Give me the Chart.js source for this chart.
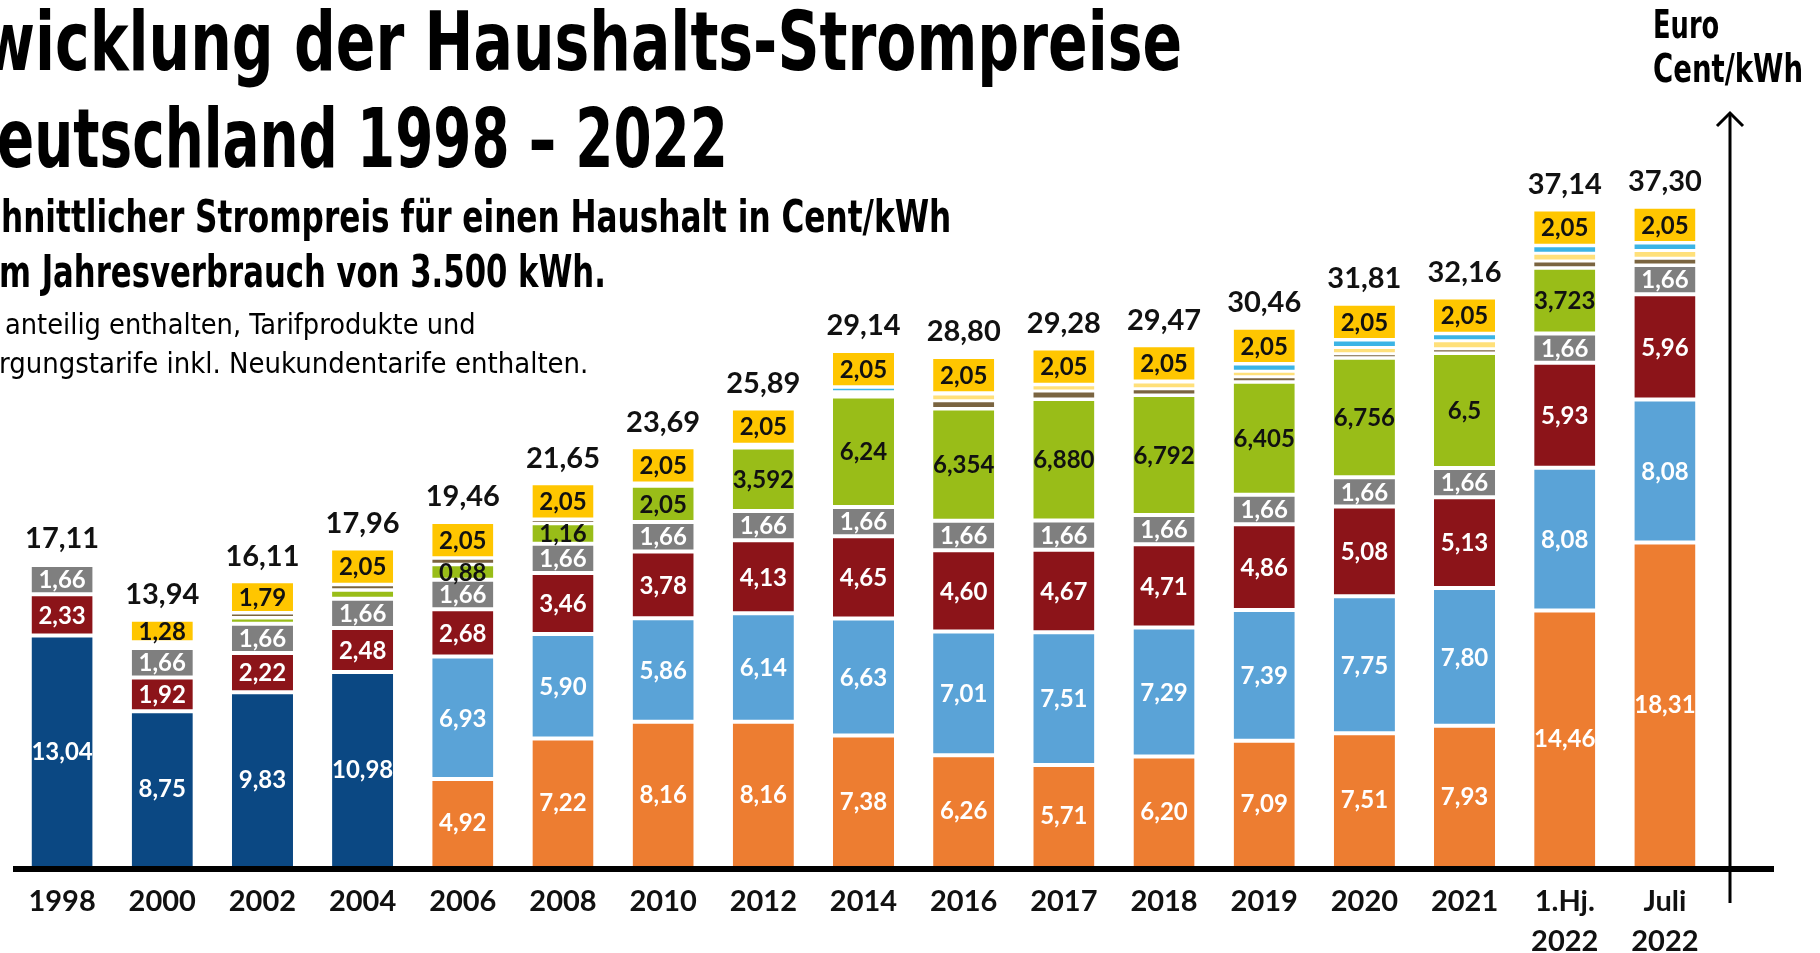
<!DOCTYPE html>
<html><head><meta charset="utf-8">
<script src="https://cdn.jsdelivr.net/npm/chart.js@4.4.1/dist/chart.umd.min.js"></script>
<style>
html,body{margin:0;padding:0;width:1820px;height:953px;overflow:hidden;background:#fff;}
canvas{position:absolute;left:0;top:0;}
.t{position:absolute;left:0;top:0;white-space:nowrap;line-height:1;color:#000;font-family:"Liberation Sans Narrow","Arial Narrow","DejaVu Sans Condensed",sans-serif;transform-origin:0 0;}
.t .pre{position:absolute;right:100%;top:0;}
.b{font-weight:bold;}
.r{font-weight:normal;}
.bl{display:inline-block;width:0;height:0;vertical-align:baseline;}
</style></head>
<body>
<canvas id="c" width="1820" height="953"></canvas>
<div class="t b" id="l1" style="font-size:82px"><span class="pre">Ent</span>wicklung der Haushalts-Strompreise<span class="bl"></span></div>
<div class="t b" id="l2" style="font-size:82px"><span class="pre">in D</span>eutschland 1998 – 2022<span class="bl"></span></div>
<div class="t b" id="l3" style="font-size:45px"><span class="pre">Durchsc</span>hnittlicher Strompreis für einen Haushalt in Cent/kWh<span class="bl"></span></div>
<div class="t b" id="l4" style="font-size:45px"><span class="pre">bei eine</span>m Jahresverbrauch von 3.500 kWh.<span class="bl"></span></div>
<div class="t r" id="l5" style="font-size:29px">anteilig enthalten, Tarifprodukte und<span class="bl"></span></div>
<div class="t r" id="l6" style="font-size:29px"><span class="pre">Grundverso</span>rgungstarife inkl. Neukundentarife enthalten.<span class="bl"></span></div>
<div class="t b" id="u1" style="font-size:39px">Euro<span class="bl"></span></div>
<div class="t b" id="u2" style="font-size:39px">Cent/kWh<span class="bl"></span></div>
<script>
// ---- data ----
const categories = ['1998','2000','2002','2004','2006','2008','2010','2012','2014','2016','2017','2018','2019','2020','2021',['1.Hj.','2022'],['Juli','2022']];
const erzeugungTransportVertrieb = [13.04,8.75,9.83,10.98,null,null,null,null,null,null,null,null,null,null,null,null,null];
const beschaffungVertrieb = [null,null,null,null,4.92,7.22,8.16,8.16,7.38,6.26,5.71,6.20,7.09,7.51,7.93,14.46,18.31];
const netzentgelt = [null,null,null,null,6.93,5.90,5.86,6.14,6.63,7.01,7.51,7.29,7.39,7.75,7.80,8.08,8.08];
const mehrwertsteuer = [2.33,1.92,2.22,2.48,2.68,3.46,3.78,4.13,4.65,4.60,4.67,4.71,4.86,5.08,5.13,5.93,5.96];
const konzessionsabgabe = [1.66,1.66,1.66,1.66,1.66,1.66,1.66,1.66,1.66,1.66,1.66,1.66,1.66,1.66,1.66,1.66,1.66];
const eegUmlage = [null,0.20,0.35,0.51,0.88,1.16,2.05,3.592,6.24,6.354,6.880,6.792,6.405,6.756,6.5,3.723,null];
const eegLabels = ['','','','','0,88','1,16','2,05','3,592','6,24','6,354','6,880','6,792','6,405','6,756','6,5','3,723',''];
const kwkUmlage = [0.08,0.13,0.26,0.28,0.34,0.20,0.13,0.002,0.18,0.445,0.44,0.35,0.28,0.226,0.254,0.378,0.378];
const stromNevUmlage = [null,null,null,null,null,null,null,0.156,0.10,0.378,0.36,0.378,0.305,0.358,0.44,0.437,0.437];
const offshoreUmlage = [null,null,null,null,null,null,null,null,0.25,0.043,null,0.04,0.42,0.42,0.396,0.422,0.425];
const stromsteuer = [null,1.28,1.79,2.05,2.05,2.05,2.05,2.05,2.05,2.05,2.05,2.05,2.05,2.05,2.05,2.05,2.05];
const totals = [17.11,13.94,16.11,17.96,19.46,21.65,23.69,25.89,29.14,28.80,29.28,29.47,30.46,31.81,32.16,37.14,37.30];

// ---- title fitting ----
function fit(id, L, R, B){
  const el=document.getElementById(id);
  el.style.left=L+'px';
  const w=el.offsetWidth;
  const bl=el.querySelector('.bl').offsetTop;
  el.style.top=(B-bl)+'px';
  el.style.transform='scaleX('+((R-L)/w)+')';
}
fit('l1',-19,1182,70);
fit('l2',-3,728,167);
fit('l3',1,951,232);
fit('l4',-1,606,287);
fit('l5',5,476,334);
fit('l6',-1,588,373);
fit('u1',1653,1719,38);
fit('u2',1653,1803,82);

const MAIN_BW={top:2,bottom:2,left:0,right:0};
const BOT_BW={top:2,bottom:0,left:0,right:0};
const SL_BW={top:1.5,bottom:1.5,left:0,right:0};
function ds(label,data,color,bw,labelColor,labels){
  return {label,data,backgroundColor:color,borderColor:'#ffffff',borderWidth:bw,borderSkipped:false,
    labelColor:labelColor,segLabels:labels};
}

const segLabels={
  id:'segLabels',
  afterDatasetsDraw(chart){
    const ctx=chart.ctx;
    chart.data.datasets.forEach((d,di)=>{
      if(!d.labelColor) return;
      const meta=chart.getDatasetMeta(di);
      meta.data.forEach((el,i)=>{
        const v=d.data[i];
        if(v==null) return;
        const txt=d.segLabels?d.segLabels[i]:v.toFixed(2).replace('.',',');
        if(!txt) return;
        ctx.save();
        ctx.font='bold 24px Lato';
        ctx.fillStyle=d.labelColor;
        ctx.textAlign='center';ctx.textBaseline='middle';
        ctx.fillText(txt,el.x,(el.y+el.base)/2+1);
        ctx.restore();
      });
    });
    const xs=chart.scales.x, ys=chart.scales.y;
    ctx.save();
    ctx.font='bold 29px Lato';ctx.fillStyle='#111';ctx.textAlign='center';ctx.textBaseline='middle';
    totals.forEach((t,i)=>{
      ctx.fillText(t.toFixed(2).replace('.',','),xs.getPixelForValue(i),ys.getPixelForValue(t)-25);
    });
    ctx.restore();
  },
  afterDraw(chart){
    const ctx=chart.ctx, ys=chart.scales.y;
    const y0=ys.getPixelForValue(0)+3;
    ctx.save();
    ctx.strokeStyle='#000';
    ctx.lineWidth=6;
    ctx.beginPath();ctx.moveTo(13,y0);ctx.lineTo(1774,y0);ctx.stroke();
    ctx.lineWidth=3;
    ctx.beginPath();ctx.moveTo(1730,903);ctx.lineTo(1730,113);ctx.stroke();
    ctx.beginPath();ctx.moveTo(1717,126);ctx.lineTo(1730,113);ctx.lineTo(1743,126);ctx.stroke();
    ctx.restore();
  }
};

new Chart(document.getElementById('c'),{
  type:'bar',
  data:{
    labels:categories,
    datasets:[
      ds('Erzeugung, Transport, Vertrieb',erzeugungTransportVertrieb,'#0b4883',BOT_BW,'#fff'),
      ds('Beschaffung, Vertrieb',beschaffungVertrieb,'#ed7d31',BOT_BW,'#fff'),
      ds('Netzentgelt',netzentgelt,'#5aa3d7',MAIN_BW,'#fff'),
      ds('Mehrwertsteuer',mehrwertsteuer,'#8c1419',MAIN_BW,'#fff'),
      ds('Konzessionsabgabe',konzessionsabgabe,'#7f7f7f',MAIN_BW,'#fff'),
      ds('EEG-Umlage',eegUmlage,'#99bd18',MAIN_BW,'#111',eegLabels),
      ds('KWKG-Umlage',kwkUmlage,'#7a6440',SL_BW,null),
      ds('§19 StromNEV-Umlage',stromNevUmlage,'#ffe07a',SL_BW,null),
      ds('Offshore-Netzumlage',offshoreUmlage,'#3cb4e5',SL_BW,null),
      ds('Stromsteuer',stromsteuer,'#ffc600',MAIN_BW,'#111')
    ]
  },
  options:{
    responsive:false,animation:false,
    layout:{padding:{left:12,right:105,top:0,bottom:0}},
    plugins:{legend:{display:false},tooltip:{enabled:false}},
    datasets:{bar:{barPercentage:0.61,categoryPercentage:1.0}},
    scales:{
      x:{stacked:true,grid:{display:false,drawTicks:false},border:{display:false},
        ticks:{color:'#111',font:{family:'Lato',weight:'bold',size:29,lineHeight:1.36},padding:16,maxRotation:0,autoSkip:false},
        afterFit(s){s.height=87;}},
      y:{stacked:true,display:false,min:0,max:49}
    }
  },
  plugins:[segLabels]
});
</script>
</body></html>
